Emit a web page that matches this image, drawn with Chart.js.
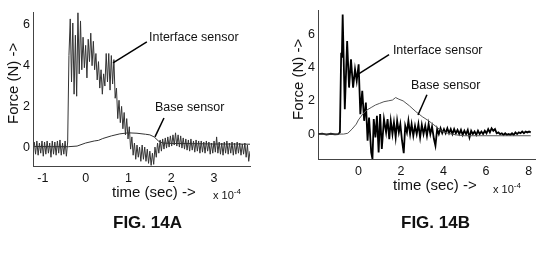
<!DOCTYPE html>
<html>
<head>
<meta charset="utf-8">
<script src="https://cdn.jsdelivr.net/npm/chart.js@4.4.0/dist/chart.umd.min.js"></script>
<style>
body { margin: 0; background: #fff; width: 559px; height: 257px; overflow: hidden; position: relative; font-family: "Liberation Sans", Arial, sans-serif; color: #111; }
canvas { position: absolute; }
.lbl { position: absolute; white-space: nowrap; line-height: 1; }
.title { font-size: 15px; }
.ytitle { font-size: 15px; transform: rotate(-90deg); transform-origin: 0 0; }
.mult { font-size: 11px; }
.mult sup { font-size: 8px; vertical-align: 5px; }
.fig { font-size: 17px; font-weight: bold; }
</style>
</head>
<body>
<canvas id="chartA" width="270" height="190" style="left:0;top:0"></canvas>
<canvas id="chartB" width="265" height="190" style="left:285px;top:0"></canvas>

<div class="lbl title" style="left:112px;top:184px">time (sec) -&gt;</div>
<div class="lbl mult" style="left:213px;top:188px">x 10<sup>-4</sup></div>
<div class="lbl ytitle" style="left:5px;top:124px">Force (N) -&gt;</div>
<div class="lbl fig" style="left:113px;top:214px">FIG. 14A</div>

<div class="lbl title" style="left:393px;top:177px">time (sec) -&gt;</div>
<div class="lbl mult" style="left:493px;top:182px">x 10<sup>-4</sup></div>
<div class="lbl ytitle" style="left:290px;top:120px">Force (N) -&gt;</div>
<div class="lbl fig" style="left:401px;top:214px">FIG. 14B</div>

<script>
// ---- FIG. 14A data (time in units of 1e-4 s) ----
// interface sensor: sampled every 0.03 starting at -1.2
const startA = -1.2;
const stepA = 0.03;
const interfaceA = [
    0.25, -0.35, 0.3, -0.4, 0.2, -0.3, 0.3, -0.45, 0.25, -0.35,
    0.3, -0.3, 0.2, -0.5, 0.3, -0.35, 0.25, -0.4, 0.3, -0.3,
    0.35, -0.4, 0.2, -0.35, 0.3, -0.45, 0.25,
    4.5, 6.3, 3.2, 6.1, 2.6, 5.5, 2.5, 6.6, 3.6, 6.2,
    3.8, 5.4, 3.9, 5.0, 3.4, 5.3, 4.2, 5.6, 4.0, 5.2,
    3.8, 4.6, 3.3, 4.2, 2.9, 3.8, 2.6, 3.6, 3.0, 4.6,
    3.2, 4.6, 2.8, 4.5, 3.1, 4.3, 2.4, 2.9, 1.4, 2.3,
    1.2, 2.0, 0.9, 1.7, 0.6, 1.4, 0.4, 1.0, -0.1, 0.5,
    -0.4, 0.2, -0.6, 0.1, -0.5, 0.0, -0.7, 0.1, -0.6, 0.0,
    -0.7, -0.1, -0.8, -0.2, -0.9, -0.3, -0.85, 0.0, -0.5, 0.2,
    -0.3, 0.35, -0.2, 0.4, -0.1, 0.45, -0.05, 0.5, 0.0, 0.55,
    0.05, 0.6, 0.1, 0.7, 0.05, 0.6, 0.0, 0.55, -0.05, 0.45,
    -0.1, 0.4, -0.15, 0.35, -0.2, 0.4, -0.15, 0.3, -0.25, 0.35,
    -0.2, 0.3, -0.3, 0.3, -0.25, 0.25, -0.3, 0.3, -0.2, 0.25,
    -0.35, 0.2, -0.3, 0.3, -0.25, 0.5, -0.3, 0.25, -0.35, 0.2,
    -0.4, 0.25, -0.3, 0.3, -0.35, 0.2, -0.3, 0.25, -0.4, 0.2,
    -0.35, 0.25, -0.3, 0.2, -0.4, 0.15, -0.35, 0.2, -0.5, 0.1,
    -0.7, -0.2
];
const baseTimeA = [-1.2, -0.8, -0.4, -0.2, 0, 0.2, 0.3, 0.4, 0.6, 0.8, 1.0, 1.2, 1.4, 1.5, 1.6, 1.7, 1.8, 2.0, 2.5, 3.0, 3.5, 3.84];
const baseA = [0.03, 0.02, 0.02, 0.05, 0.2, 0.3, 0.33, 0.42, 0.55, 0.65, 0.7, 0.68, 0.63, 0.6, 0.5, 0.3, 0.2, 0.18, 0.17, 0.15, 0.15, 0.14];
const xTicksA = [-1, 0, 1, 2, 3];
const yTicksA = [0, 2, 4, 6];

// ---- FIG. 14B data ----
const interfaceTimeB = [
    -1.9, -1.7, -1.5, -1.3, -1.1, -0.95, -0.87, -0.81, -0.78, -0.74,
    -0.64, -0.53, -0.44, -0.35, -0.25, -0.16, -0.08, 0.01, 0.09, 0.18,
    0.27, 0.35, 0.43, 0.5, 0.6, 0.66, 0.72, 0.8, 0.87, 0.95,
    1.02, 1.1, 1.2, 1.3, 1.37, 1.45, 1.52, 1.6, 1.67, 1.75,
    1.82, 1.9, 1.97, 2.05, 2.13, 2.2, 2.28, 2.35, 2.43, 2.5,
    2.58, 2.66, 2.74, 2.82, 2.9, 2.98, 3.06, 3.14, 3.22, 3.3,
    3.38, 3.46, 3.55, 3.62, 3.7, 3.78, 3.86, 3.94, 4.02, 4.1,
    4.18, 4.26, 4.34, 4.42, 4.5, 4.58, 4.66, 4.74, 4.82, 4.9,
    4.98, 5.06, 5.14, 5.22, 5.3, 5.38, 5.46, 5.54, 5.62, 5.7,
    5.78, 5.86, 5.94, 6.02, 6.1, 6.18, 6.26, 6.34, 6.42, 6.5,
    6.58, 6.66, 6.74, 6.82, 6.9, 6.98, 7.06, 7.14, 7.22, 7.3,
    7.38, 7.46, 7.54, 7.62, 7.7, 7.78, 7.86, 7.94, 8.02, 8.1
];
const interfaceB = [
    0, 0.03, -0.03, 0.02, -0.02, 0, 0.1, 4.9, 4.6, 7.2,
    1.5, 5.6, 2.8, 4.5, 2.8, 3.9, 3.2, 4.2, 1.2, 2.6,
    0.8, 1.9, -0.4, 1.0, -1.1, -1.5, 0.9, -0.2, 1.1, -1.1,
    1.2, -0.9, 0.9, 0.1, 0.9, -0.3, 0.8, 0.0, 0.7, -0.2,
    0.8, 0.1, 0.6, -0.4, -1.15, 0.5, 0.1, 0.8, 0.0, 0.6,
    -0.1, 0.5, 0.0, 0.6, -0.2, 0.55, 0.0, 0.5, -0.1, 0.6,
    0.0, 0.45, -0.3, -0.7, 0.3, 0.0, 0.35, 0.05, 0.3, 0.05,
    0.35, 0.05, 0.3, 0.0, 0.3, 0.05, 0.25, 0.0, 0.25, -0.05,
    0.2, 0.0, 0.25, -0.2, 0.2, 0.0, 0.15, -0.05, 0.2, 0.0,
    0.15, 0.0, 0.2, 0.05, 0.3, 0.1, 0.35, 0.2, 0.3, 0.05,
    0.1, 0.0, 0.05, -0.05, 0.05, -0.05, 0.0, -0.05, 0.05, -0.05,
    0.1, 0.0, 0.1, 0.05, 0.15, 0.05, 0.15, 0.1, 0.15, 0.1
];
const baseTimeB = [-1.9, -1.0, -0.7, -0.5, -0.3, -0.1, 0, 0.2, 0.4, 0.6, 0.8, 1.0, 1.2, 1.4, 1.6, 1.75, 1.9, 2.1, 2.4, 2.7, 3.0, 3.3, 3.6, 3.9, 4.2, 4.6, 5.0, 6.0, 7.0, 8.1];
const baseB = [0, 0, 0, 0.05, 0.3, 0.6, 0.85, 1.2, 1.45, 1.6, 1.75, 1.85, 1.95, 2.0, 2.05, 2.2, 2.1, 2.0, 1.7, 1.35, 1.05, 0.8, 0.5, 0.2, 0.05, -0.05, -0.1, -0.1, -0.1, -0.1];
const xTicksB = [0, 2, 4, 6, 8];
const yTicksB = [0, 2, 4, 6];

const FONT = '"Liberation Sans", Arial, sans-serif';

// labels with leader lines, given in data coordinates
const leaders = {
    id: 'leaders',
    afterDatasetsDraw(chart, args, opts) {
        const { ctx, scales: { x, y } } = chart;
        ctx.save();
        ctx.strokeStyle = '#000';
        ctx.lineWidth = 1.5;
        ctx.fillStyle = '#111';
        ctx.font = '12.5px ' + FONT;
        ctx.textBaseline = 'middle';
        (opts.items || []).forEach(it => {
            ctx.beginPath();
            ctx.moveTo(x.getPixelForValue(it.from[0]), y.getPixelForValue(it.from[1]));
            ctx.lineTo(x.getPixelForValue(it.to[0]), y.getPixelForValue(it.to[1]));
            ctx.stroke();
            ctx.fillText(it.text, x.getPixelForValue(it.at[0]), y.getPixelForValue(it.at[1]));
        });
        ctx.restore();
    }
};

function makeChart(id, cfg) {
    return new Chart(document.getElementById(id), {
        type: 'line',
        data: { datasets: cfg.datasets },
        options: {
            responsive: false,
            animation: false,
            devicePixelRatio: 1,
            layout: { padding: cfg.padding },
            plugins: {
                legend: { display: false },
                tooltip: { enabled: false },
                leaders: { items: cfg.leaders }
            },
            elements: { point: { radius: 0 }, line: { tension: 0 } },
            scales: {
                x: {
                    type: 'linear',
                    min: cfg.xRange[0], max: cfg.xRange[1],
                    grid: { display: false, drawTicks: false },
                    border: { display: true, color: '#444', dash: [1, 2], width: 1 },
                    ticks: { color: '#111', font: { size: 12.5, family: FONT }, padding: 5 },
                    afterBuildTicks: s => { s.ticks = cfg.xTicks.map(v => ({ value: v })); },
                    afterFit: s => { s.height = cfg.xHeight; }
                },
                y: {
                    min: cfg.yRange[0], max: cfg.yRange[1],
                    grid: { display: false, drawTicks: false },
                    border: { display: true, color: '#444', dash: [1, 2], width: 1 },
                    ticks: { color: '#111', font: { size: 12.5, family: FONT }, padding: 3 },
                    afterBuildTicks: s => { s.ticks = cfg.yTicks.map(v => ({ value: v })); },
                    afterFit: s => { s.width = 33; }
                }
            }
        },
        plugins: [leaders]
    });
}

makeChart('chartA', {
    datasets: [
        {
            data: baseTimeA.map((t, i) => ({ x: t, y: baseA[i] })),
            borderColor: '#333', borderWidth: 1
        },
        {
            data: interfaceA.map((v, i) => ({ x: startA + i * stepA, y: v })),
            borderColor: '#333', borderWidth: 1
        }
    ],
    xRange: [-1.23, 3.84], yRange: [-0.93, 6.64],
    xTicks: xTicksA, yTicks: yTicksA,
    padding: { top: 12, right: 20, left: 0, bottom: 0 },
    xHeight: 24,
    leaders: [
        { text: 'Interface sensor', at: [1.48, 5.37], from: [1.43, 5.17], to: [0.64, 4.14] },
        { text: 'Base sensor', at: [1.62, 1.92], from: [1.83, 1.43], to: [1.62, 0.5] }
    ]
});

makeChart('chartB', {
    datasets: [
        {
            data: baseTimeB.map((t, i) => ({ x: t, y: baseB[i] })),
            borderColor: '#555', borderWidth: 1
        },
        {
            data: interfaceTimeB.map((t, i) => ({ x: t, y: interfaceB[i] })),
            borderColor: '#000', borderWidth: 1.8
        }
    ],
    xRange: [-1.9, 8.3], yRange: [-1.5, 7.44],
    xTicks: xTicksB, yTicks: yTicksB,
    padding: { top: 4, right: 15, left: 0, bottom: 0 },
    xHeight: 31,
    leaders: [
        { text: 'Interface sensor', at: [1.62, 5.02], from: [1.44, 4.79], to: [0.03, 3.64] },
        { text: 'Base sensor', at: [2.47, 2.94], from: [3.22, 2.37], to: [2.8, 1.15] }
    ]
});
</script>
</body>
</html>
